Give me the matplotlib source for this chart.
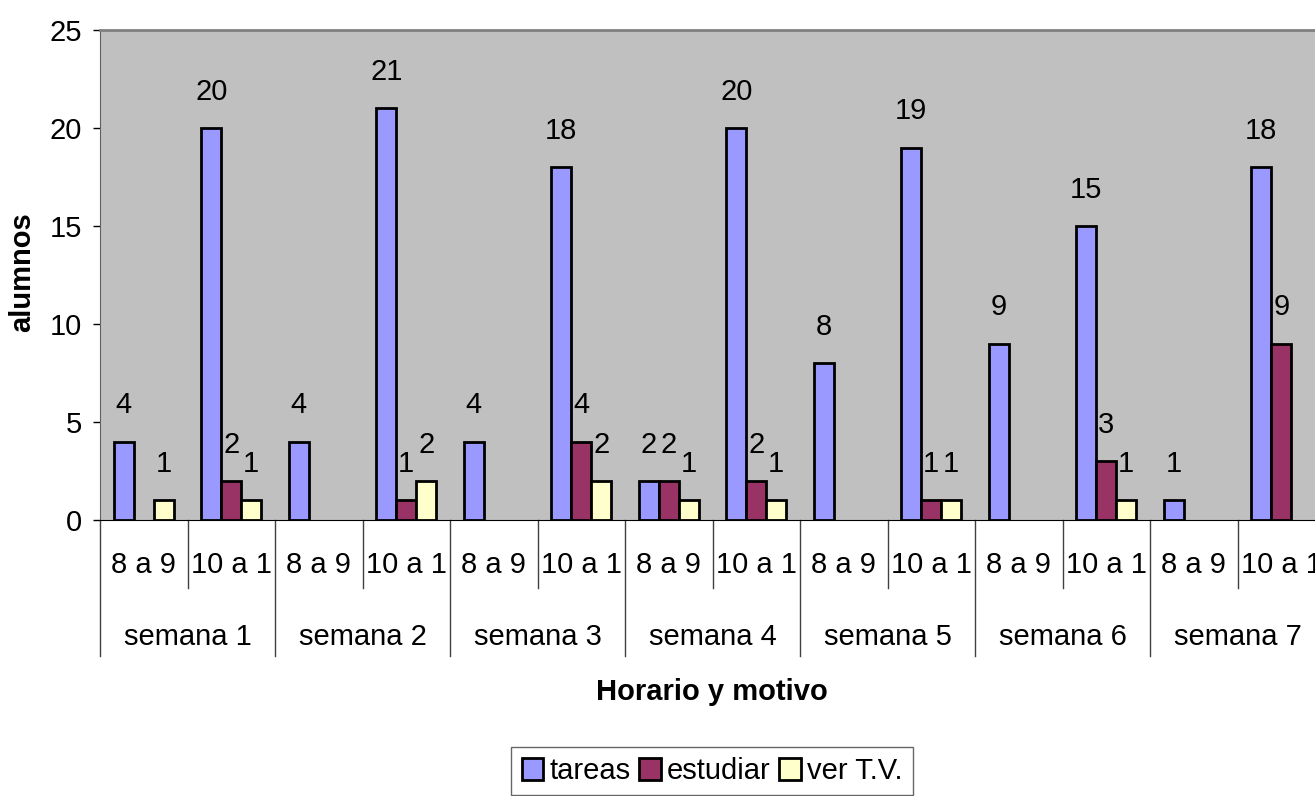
import numpy as np
import matplotlib
matplotlib.use('Agg')
from matplotlib import pyplot as plt
from matplotlib import transforms
from matplotlib.patches import Patch

plt.rcParams['font.family'] = ['Liberation Sans', 'DejaVu Sans']

weeks = ['semana 1', 'semana 2', 'semana 3', 'semana 4', 'semana 5', 'semana 6', 'semana 7']
slots = ['8 a 9', '10 a 1']
tareas = [4, 20, 4, 21, 4, 18, 2, 20, 8, 19, 9, 15, 1, 18]
estudiar = [0, 2, 0, 1, 0, 4, 2, 2, 0, 1, 0, 3, 0, 9]
ver_tv = [1, 1, 0, 2, 0, 2, 1, 1, 0, 1, 0, 1, 0, 0]
series_names = ['tareas', 'estudiar', 'ver T.V.']
colors = ['#9999FF', '#993366', '#FFFFCC']

W, H = 1315, 796
fig = plt.figure(figsize=(W / 100, H / 100), dpi=100)
# plot area runs past the right edge, as in the original
ax = fig.add_axes([100 / W, (H - 520) / H, 1225 / W, 490 / H])
ax.set_facecolor('#C0C0C0')

n = len(tareas)
x = np.arange(n) + 0.5
bw = 20 / 87.5
fs = 21

for k, (vals, c) in enumerate(zip([tareas, estudiar, ver_tv], colors)):
    xs = x + (k - 1) * bw
    vals = np.array(vals)
    lws = np.where(vals > 0, 2.0, 0.0)
    ax.bar(xs, vals, width=bw, color=c, edgecolor='black', linewidth=lws, zorder=3)
    for xi, v in zip(xs, vals):
        if v:
            ax.annotate(str(v), (xi, v), xytext=(0, 16), textcoords='offset points',
                        ha='center', va='bottom', fontsize=fs)

ax.set_xlim(0, n)
ax.set_ylim(0, 25)
ax.set_yticks(range(0, 26, 5))
ax.tick_params(axis='y', labelsize=fs, length=5, width=1, direction='out', pad=8)
ax.set_xticks([])

for s in ['top', 'right']:
    ax.spines[s].set_color('#808080')
    ax.spines[s].set_linewidth(2)
ax.spines['left'].set_color('#606060')
ax.spines['bottom'].set_color('black')

# two-level category axis
tr = transforms.blended_transform_factory(ax.transData, ax.transAxes)
for i in range(n + 1):
    depth = -0.2776 if i % 2 == 0 else -0.1388
    ax.plot([i, i], [0, depth], transform=tr, color='#404040', lw=1, clip_on=False)
for i in range(n):
    ax.text(x[i], -0.0918, slots[i % 2], transform=tr, ha='center', va='center', fontsize=fs)
for j, w in enumerate(weeks):
    ax.text(2 * j + 1, -0.2388, w, transform=tr, ha='center', va='center', fontsize=fs)

fig.text(712 / W, 1 - 692 / H, 'Horario y motivo', ha='center', va='center',
         fontsize=fs, fontweight='bold')
fig.text(22 / W, 1 - 272 / H, 'alumnos', ha='center', va='center', rotation=90,
         fontsize=fs, fontweight='bold')

handles = [Patch(facecolor=c, edgecolor='black', linewidth=2) for c in colors]
leg = fig.legend(handles, series_names, loc='upper center', ncol=3,
                 bbox_to_anchor=(712 / W, 1 - 747 / H), fontsize=fs, frameon=True,
                 fancybox=False, handlelength=0.75, handleheight=0.75,
                 handletextpad=0.2, columnspacing=0.3, borderpad=0.35, borderaxespad=0)
leg.get_frame().set_edgecolor('#404040')
leg.get_frame().set_linewidth(1)

fig.savefig('out.png', dpi=100)
